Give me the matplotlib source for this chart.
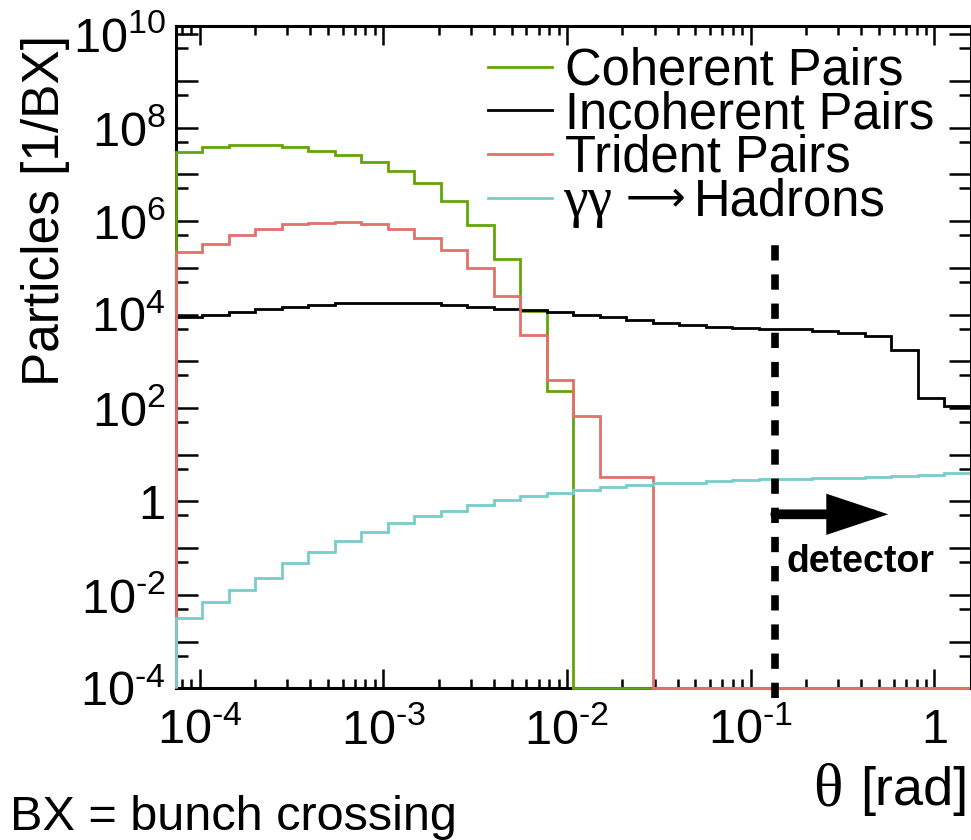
"""Angular distribution of beam-induced backgrounds per bunch crossing.

Histograms of particles per BX versus polar angle theta for the pair
background processes and gamma gamma -> hadrons, with the detector
acceptance edge marked.

Writes:
    out.png
"""

import matplotlib

matplotlib.use("Agg")

import matplotlib.pyplot as plt
import numpy as np
from matplotlib.lines import Line2D
from matplotlib.ticker import FixedLocator, FuncFormatter, LogLocator, NullFormatter

FIG_W, FIG_H = 971, 840
DPI = 100

# 30 log-spaced bins in theta [rad]
THETA_MIN = 7.4e-5
THETA_MAX = np.pi / 2
N_BINS = 30
Y_MIN, Y_MAX = 1e-4, 1.5e10

# log10(particles / BX) per bin; None -> empty bin
COHERENT_LOG = [7.47, 7.59, 7.63, 7.62, 7.58, 7.51, 7.41, 7.26, 7.08, 6.81,
                6.42, 5.92, 5.18, 4.08, 2.37] + [None] * 15
INCOHERENT_LOG = [3.94, 3.99, 4.05, 4.12, 4.17, 4.21, 4.24, 4.25, 4.25, 4.24,
                  4.21, 4.16, 4.12, 4.09, 4.05, 3.99, 3.94, 3.89, 3.82, 3.77,
                  3.74, 3.72, 3.70, 3.68, 3.64, 3.60, 3.55, 3.24, 2.22, 2.05]
TRIDENT_LOG = [5.34, 5.52, 5.71, 5.84, 5.93, 5.97, 5.98, 5.94, 5.83, 5.64,
               5.38, 4.99, 4.40, 3.56, 2.60, 1.82, 0.52, 0.52] + [None] * 12
HADRONS_LOG = [-2.49, -2.15, -1.90, -1.64, -1.32, -1.08, -0.85, -0.65, -0.47, -0.32,
               -0.20, -0.075, 0.03, 0.12, 0.18, 0.25, 0.30, 0.35, 0.39, 0.40,
               0.43, 0.45, 0.47, 0.48, 0.50, 0.51, 0.53, 0.55, 0.57, 0.60]

SERIES = ["Coherent Pairs", "Incoherent Pairs", "Trident Pairs", "Hadrons"]
COLORS = ["#64a30c", "#000000", "#e2706b", "#79cccc"]

DETECTOR_THETA = 0.136
ARROW_TIP_THETA = 0.56
ARROW_Y = 0.53

SANS = ["Liberation Sans", "DejaVu Sans"]
SERIF = ["Liberation Serif", "DejaVu Serif"]

plt.rcParams["font.family"] = SANS
plt.rcParams["mathtext.fontset"] = "custom"
plt.rcParams["mathtext.rm"] = "Liberation Sans"
plt.rcParams["mathtext.it"] = "Liberation Sans:italic"
plt.rcParams["mathtext.bf"] = "Liberation Sans:bold"
plt.rcParams["lines.scale_dashes"] = False


def to_counts(logs):
    return np.array([10.0 ** v if v is not None else 0.0 for v in logs])


def fx(px):
    return px / FIG_W


def fy(py):
    return 1 - py / FIG_H


def decade_label(val, _pos):
    e = int(round(np.log10(val)))
    if e == 0:
        return "1"
    exp = str(e).replace("-", "\u2010")  # short hyphen, not a math minus
    return r"$\mathregular{10^{%s}}$" % exp


def y_label(val, pos):
    e = int(round(np.log10(val)))
    if e % 2:
        return ""
    return decade_label(val, pos)


def main():
    fig = plt.figure(figsize=(FIG_W / DPI, FIG_H / DPI), dpi=DPI)
    ax = fig.add_axes([fx(175.5), fy(688.3), fx(970.5) - fx(175.5), fy(26) - fy(688.3)])

    edges = np.logspace(np.log10(THETA_MIN), np.log10(THETA_MAX), N_BINS + 1)
    for logs, color in zip([COHERENT_LOG, INCOHERENT_LOG, TRIDENT_LOG, HADRONS_LOG], COLORS):
        counts = to_counts(logs)
        shown = np.where(counts > 0, counts, Y_MIN)  # empty bins sit on the floor
        ax.stairs(shown, edges, baseline=Y_MIN, color=color, lw=2.0, zorder=3, clip_on=False)

    ax.set_xscale("log")
    ax.set_yscale("log")
    ax.set_xlim(THETA_MIN, THETA_MAX)
    ax.set_ylim(Y_MIN, Y_MAX)

    ax.xaxis.set_major_locator(LogLocator(base=10, numticks=20))
    ax.xaxis.set_minor_locator(LogLocator(base=10, subs=np.arange(2, 10), numticks=20))
    ax.xaxis.set_major_formatter(FuncFormatter(decade_label))
    ax.xaxis.set_minor_formatter(NullFormatter())
    ax.yaxis.set_major_locator(FixedLocator([10.0 ** e for e in range(-4, 11)]))
    ax.yaxis.set_minor_locator(FixedLocator([5 * 10.0 ** e for e in range(-4, 10)]))
    ax.yaxis.set_major_formatter(FuncFormatter(y_label))
    ax.yaxis.set_minor_formatter(NullFormatter())

    ax.tick_params(which="both", direction="in", top=True, right=True, width=1.8,
                   labelsize=35, colors="black")
    ax.tick_params(axis="x", which="major", length=13.5, pad=14.5)
    ax.tick_params(axis="x", which="minor", length=6.5)
    ax.tick_params(axis="y", which="major", length=16, pad=7)
    ax.tick_params(axis="y", which="minor", length=8.5)
    for sp in ax.spines.values():
        sp.set_linewidth(2.2)
    # the histogram right edges drop onto the frame; keep the frame black there
    ax.spines["right"].set_zorder(5)

    # detector acceptance edge
    ax.plot([DETECTOR_THETA, DETECTOR_THETA], [10 ** -4.2, 10 ** 5.62], color="black",
            lw=5.5, dashes=(11, 10), clip_on=False, zorder=4)
    ax.annotate("", xy=(ARROW_TIP_THETA, ARROW_Y), xytext=(DETECTOR_THETA, ARROW_Y),
                arrowprops=dict(arrowstyle="-|>,head_length=30,head_width=10",
                                mutation_scale=1, lw=7, color="black",
                                shrinkA=0, shrinkB=0, joinstyle="miter"),
                zorder=4)
    ax.text(0.157, 0.0507, "detector", fontsize=27, fontweight="bold",
            ha="left", va="center")

    # legend
    for i, (name, color) in enumerate(zip(SERIES, COLORS)):
        ly = 66.7 + 43.6 * i
        fig.add_artist(Line2D([fx(488), fx(552)], [fy(ly), fy(ly)], color=color, lw=2.0))
        if name == "Hadrons":
            fig.text(fx(563), fy(ly + 18), "γγ", family=SERIF, fontsize=40, va="baseline")
            fig.text(fx(626), fy(ly + 13), "\u27f6", family=["DejaVu Sans"], fontsize=30,
                     va="baseline")
            fig.text(fx(694), fy(ly + 18), name, fontsize=36.5, va="baseline")
        else:
            fig.text(fx(565), fy(ly + 18), name, fontsize=36.5, va="baseline")

    fig.text(fx(45), fy(210), "Particles [1/BX]", rotation=90, fontsize=37,
             ha="center", va="center")
    fig.text(fx(843), fy(805), "θ", family=SERIF, fontsize=44, ha="right", va="baseline")
    fig.text(fx(968), fy(805), "[rad]", fontsize=39, ha="right", va="baseline")
    fig.text(fx(10), fy(830), "BX = bunch crossing", fontsize=35, ha="left", va="baseline")

    fig.savefig("out.png", dpi=DPI)
    plt.close(fig)


if __name__ == "__main__":
    main()
